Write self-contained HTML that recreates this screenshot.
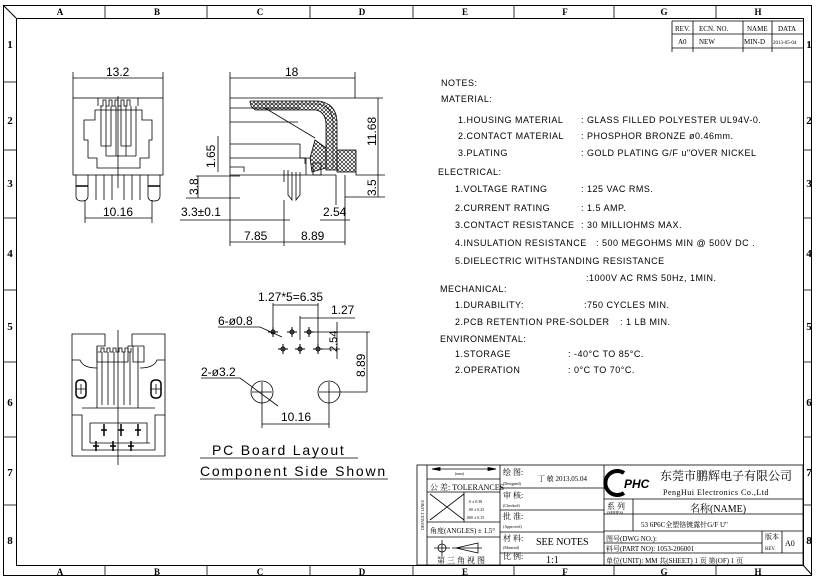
<!DOCTYPE html>
<html><head><meta charset="utf-8"><style>
html,body{margin:0;padding:0;background:#fff;}
svg{display:block;}
text{font-family:"Liberation Sans","Noto Sans CJK SC",sans-serif;fill:#000;}
.s text{font-family:"Liberation Serif","Noto Serif CJK SC",serif;}
.n text{font-size:9px;letter-spacing:0.5px;}
</style></head><body>
<svg width="816" height="579" viewBox="0 0 816 579" xmlns="http://www.w3.org/2000/svg" stroke="#000" fill="none" stroke-width="1">
<defs>
<pattern id="x" width="4" height="4" patternUnits="userSpaceOnUse"><path d="M0 0 L4 4 M4 0 L0 4" stroke="#000" stroke-width="0.6"/></pattern>
</defs>
<!-- frames -->
<rect x="3.5" y="5.5" width="808" height="570"/>
<rect x="16.5" y="18.5" width="787" height="547"/>
<line x1="3" y1="5" x2="16" y2="18"/>
<line x1="803" y1="565" x2="812" y2="575"/>
<g stroke-width="0.8">
<line x1="105" y1="5" x2="105" y2="18"/><line x1="207" y1="5" x2="207" y2="18"/><line x1="310" y1="5" x2="310" y2="18"/><line x1="413" y1="5" x2="413" y2="18"/><line x1="514" y1="5" x2="514" y2="18"/><line x1="614" y1="5" x2="614" y2="18"/><line x1="716" y1="5" x2="716" y2="18"/>
<line x1="105" y1="565" x2="105" y2="576"/><line x1="207" y1="565" x2="207" y2="576"/><line x1="310" y1="565" x2="310" y2="576"/><line x1="413" y1="565" x2="413" y2="576"/><line x1="514" y1="565" x2="514" y2="576"/><line x1="614" y1="565" x2="614" y2="576"/><line x1="716" y1="565" x2="716" y2="576"/>
<line x1="3" y1="82" x2="16" y2="82"/><line x1="3" y1="150" x2="16" y2="150"/><line x1="3" y1="218" x2="16" y2="218"/><line x1="3" y1="290" x2="16" y2="290"/><line x1="3" y1="362" x2="16" y2="362"/><line x1="3" y1="437" x2="16" y2="437"/><line x1="3" y1="505" x2="16" y2="505"/>
<line x1="803" y1="82" x2="812" y2="82"/><line x1="803" y1="150" x2="812" y2="150"/><line x1="803" y1="218" x2="812" y2="218"/><line x1="803" y1="290" x2="812" y2="290"/><line x1="803" y1="362" x2="812" y2="362"/><line x1="803" y1="437" x2="812" y2="437"/><line x1="803" y1="505" x2="812" y2="505"/>
</g>
<g stroke="none" class="s" font-size="9" font-weight="bold" text-anchor="middle">
<text x="60" y="15">A</text><text x="157" y="15">B</text><text x="260" y="15">C</text><text x="362" y="15">D</text><text x="465" y="15">E</text><text x="565" y="15">F</text><text x="664" y="15">G</text><text x="758" y="15">H</text>
<text x="60" y="575">A</text><text x="157" y="575">B</text><text x="260" y="575">C</text><text x="362" y="575">D</text><text x="465" y="575">E</text><text x="565" y="575">F</text><text x="664" y="575">G</text><text x="758" y="575">H</text>
<g font-size="11"><text x="10" y="48">1</text><text x="10" y="124">2</text><text x="10" y="187">3</text><text x="10" y="257">4</text><text x="10" y="330">5</text><text x="10" y="406">6</text><text x="10" y="476">7</text><text x="10" y="544">8</text>
<text x="809" y="48">1</text><text x="809" y="124">2</text><text x="809" y="187">3</text><text x="809" y="257">4</text><text x="809" y="330">5</text><text x="809" y="406">6</text><text x="809" y="476">7</text><text x="809" y="544">8</text></g>
</g>
<!-- revision table -->
<g stroke-width="0.8">
<line x1="672" y1="21" x2="803" y2="21"/><line x1="672" y1="34" x2="803" y2="34"/><line x1="672" y1="48" x2="803" y2="48"/>
<line x1="672" y1="21" x2="672" y2="52"/><line x1="693" y1="21" x2="693" y2="52"/><line x1="743" y1="21" x2="743" y2="52"/><line x1="772" y1="21" x2="772" y2="52"/>
</g>
<g stroke="none" class="s" font-size="7"><text x="675" y="31">REV.</text><text x="699" y="31">ECN. NO.</text><text x="747" y="31">NAME</text><text x="778" y="31">DATA</text>
<text x="678" y="44">A0</text><text x="699" y="44">NEW</text><text x="744" y="44">MIN-D</text><text x="773" y="44" font-size="5">2013-05-04</text></g>

<!-- front view -->
<g stroke-width="0.8">
<rect x="73" y="98" width="90" height="77"/>
<line x1="73" y1="78" x2="163" y2="78"/><line x1="73" y1="72" x2="73" y2="98"/><line x1="163" y1="72" x2="163" y2="98"/>
<path d="M84 120 H95 V110 H142 V120 H152 V140 H149 V158 H140 V168 H97 V158 H88 V140 H84 Z"/>
<path d="M98 98 V106 M138 98 V106"/>
<path d="M100 106 h3 v-6 h3 v6 h3 v-6 h3 v6 h3 v-6 h3 v6 h3 v-6 h3 v6 h3 v-6 h3 v6"/>
<path d="M101 106 V146 M106 106 V156 M111 106 V146 M116 106 V156 M121 106 V146 M126 106 V156 M131 106 V146 M136 106 V156 M101 146 H111 M121 146 H131 M106 156 H136"/>
<line x1="118" y1="96" x2="118" y2="188"/>
<path d="M76 175 V196 Q76 201 82 201 Q88 201 88 196 V175 M148 175 V196 Q148 201 154 201 Q160 201 160 196 V175"/>
<path d="M76 186 H88 M148 186 H160" stroke-width="1.6"/>
<path d="M96 175 V200 M104 175 V200 M112 175 V200 M124 175 V200 M132 175 V200 M140 175 V200"/>
<line x1="85" y1="218" x2="152" y2="218"/><line x1="85" y1="200" x2="85" y2="223"/><line x1="152" y1="200" x2="152" y2="223"/>
</g>
<g stroke="none" font-size="12"><text x="106" y="76">13.2</text><text x="103" y="216">10.16</text></g>

<!-- side view -->
<g stroke-width="0.8">
<line x1="230" y1="78" x2="355" y2="78"/><line x1="230" y1="72" x2="230" y2="175"/><line x1="355" y1="72" x2="355" y2="98"/>
<path d="M230 98 H355 M230 175 H300"/>
<path d="M230 108 H300 M230 122 H298 M230 144 H300 M230 158 H310 M230 167 H244 V172"/>
<path d="M250 101 H318 Q336 103 337 121 V170 H326 V123 Q325 112 316 110 H256 Q250 108 250 101 Z" fill="url(#x)"/>
<path d="M254 104 H318 Q332 106 333 122 V168" stroke-width="0.6"/>
<rect x="337" y="150" width="19" height="22" fill="url(#x)"/>
<path d="M315 140 L326 148 L326 168 L312 172 L310 158 Z" fill="url(#x)"/>
<path d="M265 108 L315 138"/>
<path d="M300 144 V158 H305 V164 M306 158 V175 M313 163 H321 V175 H313 Z"/>
<path d="M288 170 V195 L292 200 V172 M296 172 V200 L300 195 V172 M284 170 V182"/>
<line x1="336" y1="175" x2="336" y2="205"/>
<path d="M356 172 V175 H385 M345 197 H385 M345 175 V245 M300 175 H336"/>
<line x1="378" y1="98" x2="378" y2="197"/><line x1="355" y1="98" x2="383" y2="98"/>
<line x1="186" y1="198" x2="240" y2="198"/><line x1="180" y1="220" x2="290" y2="220"/>
<line x1="198" y1="176" x2="198" y2="198"/><line x1="196" y1="176" x2="240" y2="176"/>
<line x1="218" y1="136" x2="218" y2="172"/>
<line x1="320" y1="220" x2="350" y2="220"/>
<line x1="230" y1="242" x2="345" y2="242"/><line x1="230" y1="175" x2="230" y2="246"/><line x1="284" y1="200" x2="284" y2="246"/>
</g>
<g stroke="none" font-size="12"><text x="285" y="76">18</text><text x="244" y="240">7.85</text><text x="301" y="240">8.89</text><text x="181" y="216">3.3±0.1</text><text x="323" y="216">2.54</text>
<text transform="translate(376,146) rotate(-90)">11.68</text><text transform="translate(376,196) rotate(-90)">3.5</text><text transform="translate(215,168) rotate(-90)">1.65</text><text transform="translate(198,195) rotate(-90)">3.8</text></g>

<!-- bottom view -->
<g stroke-width="0.8">
<path d="M72 334 H105 V346 H97 V362 H128 V346 H133 V362 H144 V346 H132 V334 H165 V456 H72 Z"/>
<path d="M72 360 H80 Q83 368 97 368 M165 360 H157 Q154 368 140 368"/>
<path d="M97 347 V408 M138 347 V408"/>
<path d="M98 352 h3 v-4 h3 v4 h3 v-4 h3 v4 h3 v-4 h3 v4 h3 v-4 h3 v4 h3 v-4 h3 v4 h3 v-4"/>
<path d="M102 352 V405 M108 352 V405 M114 352 V405 M124 352 V405 M130 352 V405"/>
<path d="M82 408 H155 M72 415 H82 V450 H155 V415 H165 M90 443 H150 M90 423 H147 V443 M90 423 V443"/>
<line x1="118" y1="330" x2="118" y2="465"/>
<rect x="76" y="380" width="10" height="18" rx="4" stroke-width="1.5"/><rect x="151" y="380" width="10" height="18" rx="4" stroke-width="1.5"/>
<path d="M76 389 H86 M151 389 H161 M81 384 V394 M156 384 V394"/>
<g stroke-width="1.5"><path d="M104 424 v12 M101 430 h6 M121 424 v12 M118 430 h6 M138 424 v12 M135 430 h6 M96 441 v10 M93 446 h6 M113 441 v10 M110 446 h6 M131 441 v10 M128 446 h6"/></g>
</g>

<!-- PCB layout -->
<g stroke-width="0.8">
<circle cx="262" cy="392" r="11"/><circle cx="329" cy="392" r="11"/>
<path d="M252 392 H272 M262 382 V402 M319 392 H367 M329 382 V402"/>
<path d="M201 378 H240 L278 406"/>
<path d="M218 327 H260 L282 337"/>
<g stroke-width="1"><circle cx="273" cy="332" r="2"/><circle cx="292" cy="332" r="2"/><circle cx="309" cy="332" r="2"/><circle cx="283" cy="349" r="2"/><circle cx="300" cy="349" r="2"/><circle cx="318" cy="349" r="2"/>
<path d="M268 332 h10 M273 327 v10 M287 332 h10 M292 327 v10 M304 332 h10 M309 327 v10 M278 349 h10 M283 344 v10 M295 349 h10 M300 344 v10 M313 349 h10 M318 344 v10"/></g>
<path d="M273 303 V328 M318 303 V345 M273 305 H318"/>
<path d="M300 316 V340 M300 318 H355"/>
<path d="M314 332 H370 M322 349 H340 M337 322 V359"/>
<path d="M367 332 V392"/>
<path d="M262 402 V428 M329 402 V428 M262 424 H329"/>
<line x1="200" y1="458" x2="358" y2="458"/><line x1="200" y1="479" x2="388" y2="479"/>
</g>
<g stroke="none" font-size="12"><text x="258" y="301">1.27*5=6.35</text><text x="331" y="314">1.27</text><text x="218" y="325">6-ø0.8</text><text x="201" y="376">2-ø3.2</text><text x="281" y="421">10.16</text>
<text transform="translate(365,377) rotate(-90)">8.89</text><text transform="translate(337,352) rotate(-90)" font-size="11">2.54</text>
<text x="212" y="455" font-size="14" letter-spacing="1.8">PC Board Layout</text><text x="200" y="476" font-size="14" letter-spacing="1.8">Component Side Shown</text></g>

<!-- notes -->
<g stroke="none" class="n">
<text x="441" y="86">NOTES:</text><text x="441" y="102">MATERIAL:</text>
<text x="458" y="123">1.HOUSING MATERIAL</text><text x="581" y="123">: GLASS FILLED POLYESTER UL94V-0.</text>
<text x="458" y="139">2.CONTACT MATERIAL</text><text x="581" y="139">: PHOSPHOR BRONZE ø0.46mm.</text>
<text x="458" y="156">3.PLATING</text><text x="581" y="156">:  GOLD PLATING G/F u"OVER  NICKEL</text>
<text x="438" y="175">ELECTRICAL:</text>
<text x="455" y="192">1.VOLTAGE RATING</text><text x="581" y="192">: 125 VAC RMS.</text>
<text x="455" y="211">2.CURRENT RATING</text><text x="581" y="211">: 1.5 AMP.</text>
<text x="455" y="228">3.CONTACT RESISTANCE</text><text x="581" y="228">: 30 MILLIOHMS MAX.</text>
<text x="455" y="246">4.INSULATION RESISTANCE</text><text x="596" y="246">: 500 MEGOHMS MIN @ 500V DC .</text>
<text x="455" y="264">5.DIELECTRIC WITHSTANDING RESISTANCE</text>
<text x="586" y="281">:1000V AC RMS 50Hz, 1MIN.</text>
<text x="440" y="292">MECHANICAL:</text>
<text x="455" y="308">1.DURABILITY:</text><text x="584" y="308">:750 CYCLES MIN.</text>
<text x="455" y="325">2.PCB RETENTION PRE-SOLDER</text><text x="620" y="325">: 1 LB MIN.</text>
<text x="440" y="342">ENVIRONMENTAL:</text>
<text x="455" y="357">1.STORAGE</text><text x="568" y="357">: -40°C TO 85°C.</text>
<text x="455" y="373">2.OPERATION</text><text x="568" y="373">: 0°C TO 70°C.</text>
</g>

<!-- title block -->
<g stroke-width="0.8">
<rect x="417" y="465" width="386" height="100"/>
<line x1="427" y1="465" x2="427" y2="565"/><line x1="500" y1="465" x2="500" y2="565"/><line x1="604" y1="465" x2="604" y2="565"/>
<path d="M427 479 H500 M427 492 H500 M427 522 H500 M427 537 H500"/>
<path d="M500 488 H604 M500 510 H604 M500 532 H604 M500 553 H604"/>
<path d="M604 499 H803 M604 514 H803 M604 531 H803 M604 543 H762 M604 553 H803"/>
<line x1="633" y1="499" x2="633" y2="531"/><line x1="762" y1="531" x2="762" y2="553"/><line x1="782" y1="531" x2="782" y2="553"/>
<path d="M430 494 L464 520 M464 494 L430 520 M464 492 V522"/>
<path d="M432 469 H496 M432 469 l8 -1.5 v3 Z M496 469 l-8 -1.5 v3 Z" fill="#000"/>
<circle cx="442" cy="548" r="4"/><path d="M434 548 H450 M442 540 V556"/><path d="M456 548 L478 543 V553 Z M452 548 H482"/>
<path d="M624 473 a12 12 0 1 0 0 20" stroke-width="4"/>
</g>
<g stroke="none" class="s">
<text x="455" y="475" font-size="4">(mm)</text>
<text x="430" y="490" font-size="8">公 差: TOLERANCES</text>
<text x="468" y="503" font-size="4">.0 ± 0.38</text><text x="468" y="511" font-size="4">.00 ± 0.25</text><text x="466" y="519" font-size="4">.000 ± 0.15</text>
<text x="430" y="533" font-size="7">角度(ANGLES) ± 1.5°</text>
<text x="437" y="563" font-size="8">第 三 角 视 图</text>
<text transform="translate(424,530) rotate(-90)" font-size="4">DEFAULT LINES</text>
<text x="503" y="475" font-size="8">绘  图:</text><text x="503" y="485" font-size="4">(Designed)</text><text x="538" y="481" font-size="7">丁 敏 2013.05.04</text>
<text x="503" y="498" font-size="8">审  核:</text><text x="503" y="507" font-size="4">(Checked)</text>
<text x="503" y="519" font-size="8">批  准:</text><text x="503" y="528" font-size="4">(Approved)</text>
<text x="503" y="541" font-size="8">材  料:</text><text x="503" y="549" font-size="4">(Material)</text><text x="536" y="545" font-size="10">SEE NOTES</text>
<text x="503" y="559" font-size="8">比  例:</text><text x="546" y="563" font-size="10">1:1</text>
<text x="624" y="488" font-size="12" font-weight="bold" font-style="italic" style="font-family:'Liberation Sans',sans-serif">PHC</text>
<text x="660" y="480" font-size="12">东莞市鹏辉电子有限公司</text>
<text x="663" y="495" font-size="8" letter-spacing="0.5">PengHui Electronics Co.,Ltd</text>
<text x="607" y="509" font-size="8">系  列</text><text x="607" y="514" font-size="4">(SERIES)</text>
<text x="690" y="512" font-size="10">名称(NAME)</text>
<text x="641" y="527" font-size="7">53 6P6C全塑铬镀露针G/F U"</text>
<text x="606" y="541" font-size="7">图号(DWG NO.):</text>
<text x="606" y="551" font-size="7">料号(PART NO): 1053-206001</text>
<text x="765" y="539" font-size="7">版本</text><text x="765" y="550" font-size="5">REV.</text><text x="785" y="546" font-size="8">A0</text>
<text x="606" y="563" font-size="7">单位(UNIT): MM  共(SHEET) 1 页  第(OF) 1 页</text>
</g>
</svg>
</body></html>
